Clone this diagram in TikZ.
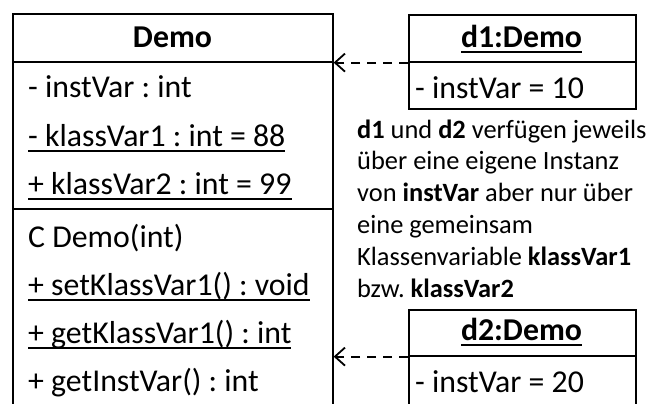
\documentclass[tikz,border=0pt]{standalone}
\usepackage{fontspec}
\setmainfont{Carlito}
\usetikzlibrary{arrows.meta}
\frenchspacing
\newcommand{\myul}[1]{\setbox0=\hbox{#1}\rlap{\rule[-5.8bp]{\wd0}{1.5bp}}\box0}
\begin{document}
\begin{tikzpicture}[x=1bp,y=-1bp,
  box/.style={draw, line width=1.6bp, rectangle, inner sep=0pt, anchor=north west},
  txt/.style={anchor=base west, inner sep=0pt, font=\fontsize{31.8bp}{38bp}\selectfont},
  ttl/.style={anchor=base, inner sep=0pt, font=\fontsize{31.8bp}{38bp}\selectfont\bfseries},
  dep/.style={dash pattern=on 9bp off 7bp, -{Straight Barb[length=10bp,width=18bp,line width=1.8bp]}, line width=1.8bp}]
\useasboundingbox (0,0) rectangle (649,403);
\fill[white] (0,0) rectangle (649,403);
\clip (0,0) rectangle (649,403);
% class Demo
\node[box, minimum width=320bp, minimum height=48bp] (demohead) at (12,13) {};
\node[box, minimum width=320bp, minimum height=147bp] (demoattr) at (12,61) {};
\node[box, minimum width=320bp, minimum height=260bp] (demoops) at (12,208) {};
\node[ttl] (demotitle) at (172.5,47) {Demo};
\node[txt] (a1) at (28,97) {- instVar : int};
\node[txt] (a2) at (28,146) {\myul{- klassVar1 : int = 88}};
\node[txt] (a3) at (28,194) {\myul{+ klassVar2 : int = 99}};
\node[txt] (o1) at (28,247) {C Demo(int)};
\node[txt] (o2) at (28,295) {\myul{+ setKlassVar1() : void}};
\node[txt] (o3) at (28,343) {\myul{+ getKlassVar1() : int}};
\node[txt] (o4) at (28,391) {+ getInstVar() : int};
% object d1
\node[box, minimum width=227bp, minimum height=47bp] (d1head) at (408,14) {};
\node[box, minimum width=227bp, minimum height=47bp] (d1body) at (408,61) {};
\node[ttl] (d1title) at (521.5,47) {\myul{d1:Demo}};
\node[txt] (d1attr) at (415,98) {- instVar = 10};
% object d2
\node[box, minimum width=227bp, minimum height=46bp] (d2head) at (408,309) {};
\node[box, minimum width=227bp, minimum height=100bp] (d2body) at (408,355) {};
\node[ttl] (d2title) at (521.5,340) {\myul{d2:Demo}};
\node[txt] (d2attr) at (415,392) {- instVar = 20};
% dependencies
\draw[dep] (d1head.south west) -- (d1head.south west -| demohead.east);
\draw[dep] (d2head.south west) -- (d2head.south west -| demohead.east);
% note
\node[anchor=base west, inner sep=0pt, text width=300bp, align=flush left,
  font=\fontsize{26.4bp}{31.8bp}\selectfont] (note) at (357,138)
  {\spaceskip=0pt\xspaceskip=0pt
   \textbf{d1} und \textbf{d2} verfügen jeweils\\
   über eine eigene Instanz\\
   von \textbf{instVar} aber nur über\\
   eine gemeinsam\\
   Klassenvariable \textbf{klassVar1}\\
   bzw. \textbf{klassVar2}};
\end{tikzpicture}
\end{document}
